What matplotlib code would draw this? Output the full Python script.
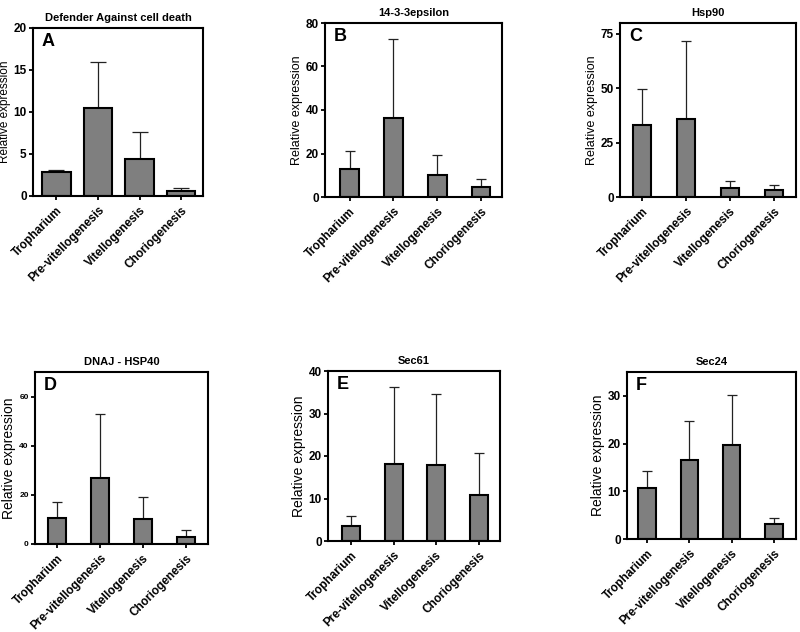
import matplotlib
matplotlib.use('Agg')
import matplotlib.pyplot as plt
import numpy as np

plt.rcParams['font.family'] = ['Liberation Sans', 'DejaVu Sans']

categories = ['Tropharium', 'Pre-vitellogenesis', 'Vitellogenesis', 'Choriogenesis']

titles = ['Defender Against cell death', '14-3-3epsilon', 'Hsp90',
          'DNAJ - HSP40', 'Sec61', 'Sec24']
letters = ['A', 'B', 'C', 'D', 'E', 'F']

mean_a = [2.8, 10.5, 4.4, 0.6]
sd_a = [0.3, 5.4, 3.2, 0.35]
mean_b = [13.0, 36.5, 10.0, 4.5]
sd_b = [8.0, 36.0, 9.5, 3.8]
mean_c = [33.0, 36.0, 4.0, 3.0]
sd_c = [16.5, 35.5, 3.5, 2.5]
mean_d = [10.5, 27.0, 10.0, 3.0]
sd_d = [6.5, 26.0, 9.0, 2.5]
mean_e = [3.5, 18.2, 17.8, 10.8]
sd_e = [2.5, 18.0, 16.8, 10.0]
mean_f = [10.6, 16.6, 19.8, 3.2]
sd_f = [3.6, 8.1, 10.4, 1.3]

yticks = [[0, 5, 10, 15, 20], [0, 20, 40, 60, 80], [0, 25, 50, 75],
          [0, 20, 40, 60], [0, 10, 20, 30, 40], [0, 10, 20, 30]]
ylims = [20, 80, 80, 70, 40, 35]

# layout (pixels: left, right, top, bottom)
boxes = [(33, 203, 28, 196), (325, 502, 23, 197), (620, 796, 23, 197),
         (35, 208, 372, 544), (328, 500, 371, 541), (627, 796, 372, 539)]
xlims = [(-0.56, 3.52), (-0.56, 3.48), (-0.5, 3.5),
         (-0.51, 3.51), (-0.54, 3.5), (-0.48, 3.53)]
widths = [0.68, 0.43, 0.42, 0.42, 0.42, 0.42]
capsizes = [5.5, 3.3, 3.3, 3.3, 3.3, 3.3]
ytick_size = [8.5, 8.5, 8.5, 6, 8.5, 8.5]
ylab_size = [8.5, 9, 9, 10, 10, 10]

means = [mean_a, mean_b, mean_c, mean_d, mean_e, mean_f]
sds = [sd_a, sd_b, sd_c, sd_d, sd_e, sd_f]

W, H = 800, 632
fig = plt.figure(figsize=(8, 6.32), dpi=100)

for i in range(6):
    l, r, t, b = boxes[i]
    ax = fig.add_axes([l / W, 1 - b / H, (r - l) / W, (b - t) / H])
    x = np.arange(len(categories))
    ax.bar(x, means[i], width=widths[i], color='#7f7f7f', edgecolor='black',
           linewidth=1.5, zorder=2)
    ax.errorbar(x, means[i], yerr=[np.zeros(4), sds[i]], fmt='none',
                ecolor='#222222', elinewidth=0.9, capsize=capsizes[i],
                capthick=0.9, zorder=1)
    ax.set_xlim(*xlims[i])
    ax.set_ylim(0, ylims[i])
    ax.set_yticks(yticks[i])
    ax.set_xticks(x)
    ax.set_xticklabels(categories, rotation=45, ha='right', rotation_mode='anchor',
                       fontsize=8.5, fontweight='bold')
    for lab in ax.get_yticklabels():
        lab.set_fontweight('bold')
        lab.set_fontsize(ytick_size[i])
    for s in ax.spines.values():
        s.set_linewidth(1.5)
    ax.tick_params(axis='both', direction='out', length=3, width=1.3, pad=1.5)
    ax.tick_params(axis='x', pad=3)
    ax.set_ylabel('Relative expression', fontsize=ylab_size[i], labelpad=2)
    ax.set_title(titles[i], fontsize=8, fontweight='bold', pad=5)
    ax.text(0.05, 0.97, letters[i], transform=ax.transAxes, fontsize=13,
            fontweight='bold', va='top', ha='left')

fig.savefig('out.png', dpi=100)
